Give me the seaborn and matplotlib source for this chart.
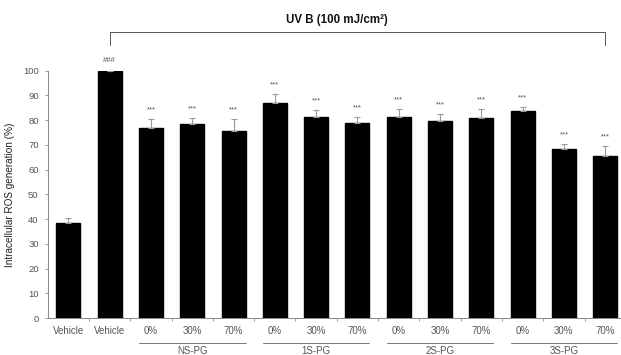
import matplotlib
matplotlib.use("Agg")
import matplotlib.pyplot as plt
import matplotlib.transforms as mtransforms
import seaborn as sns
import pandas as pd
import numpy as np

# ---- data ----
conditions = ["Vehicle (no UV)", "Vehicle (UVB)",
              "NS-PG 0%", "NS-PG 30%", "NS-PG 70%",
              "1S-PG 0%", "1S-PG 30%", "1S-PG 70%",
              "2S-PG 0%", "2S-PG 30%", "2S-PG 70%",
              "3S-PG 0%", "3S-PG 30%", "3S-PG 70%"]
tick_labels = ["Vehicle", "Vehicle", "0%", "30%", "70%", "0%", "30%", "70%",
               "0%", "30%", "70%", "0%", "30%", "70%"]
values = [38.3, 100.0, 77.0, 78.4, 75.6, 86.9, 81.1, 78.7, 81.4, 79.7, 80.7, 83.7, 68.3, 65.5]
errors = [2.3, 0.0, 3.3, 2.4, 4.7, 3.6, 3.0, 2.5, 3.1, 2.8, 3.8, 1.5, 1.9, 4.1]
marks = ["", "###", "***", "***", "***", "***", "***", "***", "***", "***", "***", "***", "***", "***"]
groups = ["NS-PG", "1S-PG", "2S-PG", "3S-PG"]
group_members = [[2, 3, 4], [5, 6, 7], [8, 9, 10], [11, 12, 13]]
title = "UV B (100 mJ/cm\u00b2)"
ylabel = "Intracellular ROS generation (%)"

df = pd.DataFrame({"cond": conditions, "value": values, "err": errors})

sns.set_theme(style="white")
plt.rcParams["font.family"] = ["Liberation Sans", "DejaVu Sans"]

fig = plt.figure(figsize=(6.21, 3.55), dpi=100)
ax = fig.add_axes([0.0768, 0.1042, 0.931, 0.6966])

sns.barplot(data=df, x="cond", y="value", order=conditions, color="black",
            width=0.58, errorbar=None, ax=ax, saturation=1)
for p in ax.patches:
    p.set_edgecolor("black")

x = np.arange(len(conditions))
ax.errorbar(x, df["value"], yerr=[np.zeros(len(x)), df["err"]], fmt="none",
            ecolor="#9a9a9a", elinewidth=0.8, capsize=2, capthick=0.8, zorder=1)

for xi, v, e, m in zip(x, values, errors, marks):
    if m:
        off = 2.6 if m == "###" else 2.4
        ax.text(xi, v + e + off, m, ha="center", va="bottom", fontsize=5.5,
                color="#555555", clip_on=False)

ax.set_xlim(-0.5, len(conditions) - 0.5)
ax.set_ylim(0, 100)
ax.set_yticks(range(0, 101, 10))
ax.set_xticks(x)
ax.set_xticklabels(tick_labels, fontsize=7, color="#555555")
ax.set_xticks(np.arange(0.5, len(conditions) - 0.5, 1), minor=True)
ax.tick_params(axis="x", which="major", length=0, pad=6)
ax.tick_params(axis="x", which="minor", length=2.5, width=0.6, color="#888888", direction="out", bottom=True)
ax.tick_params(axis="y", length=2.5, width=0.6, color="#888888", labelsize=6.8,
               labelcolor="#555555", direction="out", left=True, pad=4)
ax.set_xlabel("")
ax.set_ylabel(ylabel, fontsize=7.2, color="#222222", labelpad=6)

for s in ["top", "right"]:
    ax.spines[s].set_visible(False)
for s in ["left", "bottom"]:
    ax.spines[s].set_color("#888888")
    ax.spines[s].set_linewidth(0.7)
    ax.spines[s].set_linestyle((0, (1.5, 1)))

trans = mtransforms.blended_transform_factory(ax.transData, ax.transAxes)
for g, mem in zip(groups, group_members):
    x0, x1 = mem[0] - 0.29, mem[-1] + 0.29
    ax.plot([x0, x1], [-0.101, -0.101], transform=trans, color="#777777", lw=0.7, clip_on=False)
    ax.text((x0 + x1) / 2, -0.113, g, transform=trans, ha="center", va="top",
            fontsize=7, color="#555555")

# UV B bracket
ax.plot([1, 1, 13, 13], [1.104, 1.155, 1.155, 1.104], transform=trans,
        color="#555555", lw=0.7, clip_on=False)
ax.text(6.5, 1.205, title, transform=trans, ha="center", va="center",
        fontsize=8.3, fontweight="bold", color="#111111")

fig.savefig("out.png", dpi=100)
